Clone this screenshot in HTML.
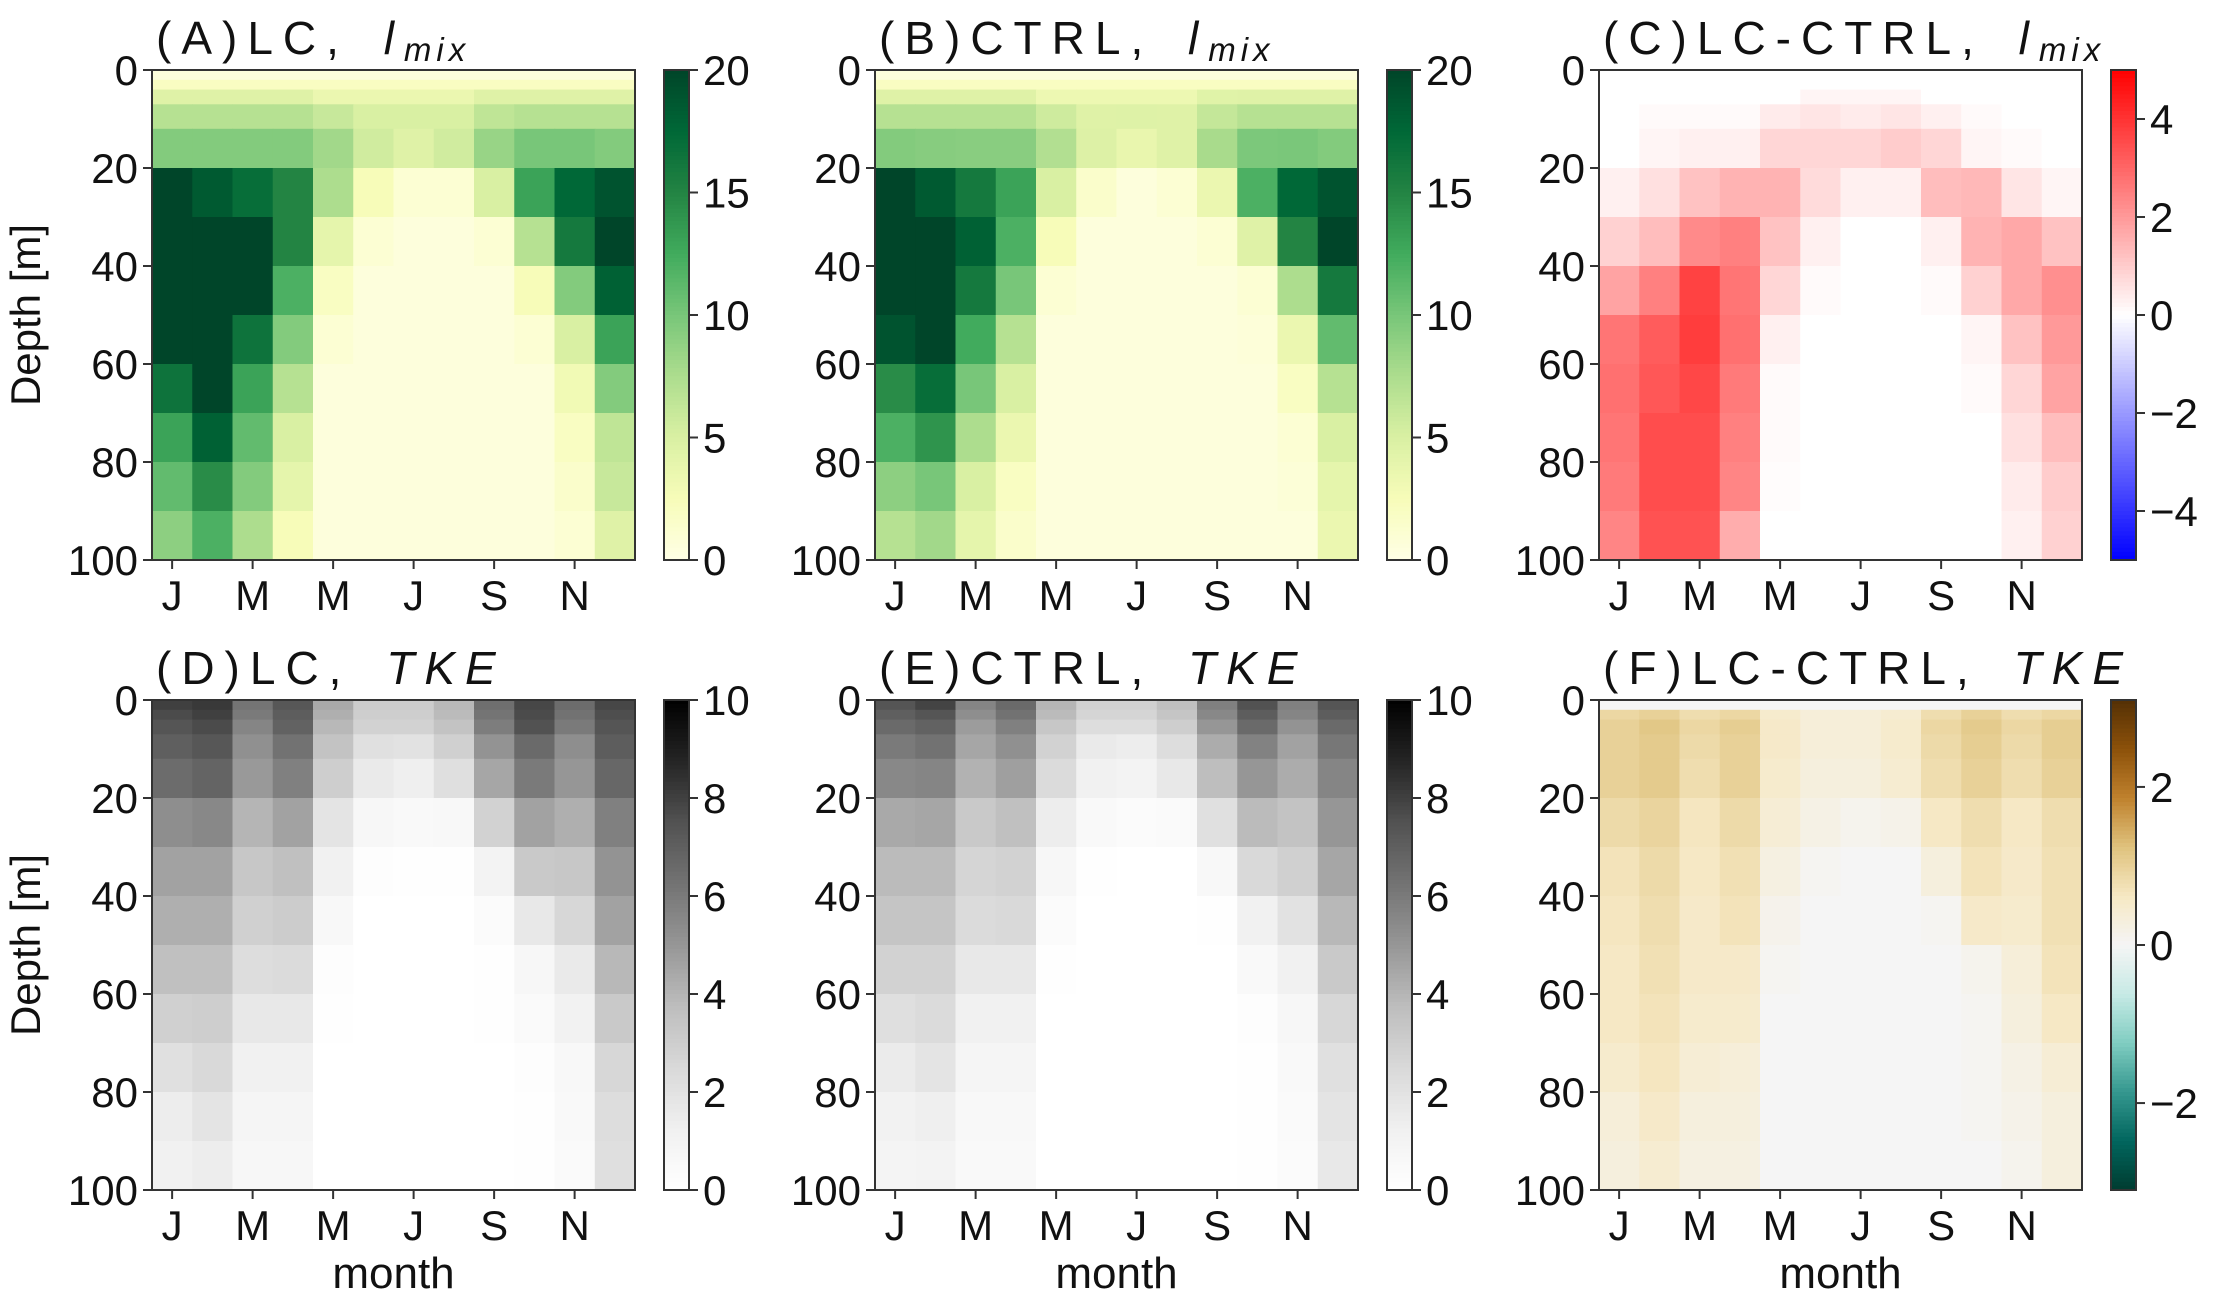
<!DOCTYPE html>
<html><head><meta charset="utf-8"><title>LC vs CTRL l_mix and TKE</title>
<style>
html,body{margin:0;padding:0;background:#fff;}
svg{display:block;font-family:"Liberation Sans","DejaVu Sans",sans-serif;}
</style></head>
<body>
<svg id="fig" width="2228" height="1300" viewBox="0 0 2228 1300" xmlns="http://www.w3.org/2000/svg"></svg>
<script>
const months = ["Jan","Feb","Mar","Apr","May","Jun","Jul","Aug","Sep","Oct","Nov","Dec"];
const monthTickLabels = ["J","M","M","J","S","N"];
const monthTickIdx = [0,2,4,6,8,10];
const depthEdges = [0,2,4,7,12,20,30,40,50,60,70,80,90,100];
const depthTicks = [0,20,40,60,80,100];

const lcLmix = [
 [0.5,0.5,0.5,0.5,0.5,0.5,0.5,0.5,0.5,0.5,0.5,0.5],
 [2,2,2,2,2,2,2,2,2,2,2,2],
 [4.5,4.5,4.5,4.5,3.5,3.5,3.5,3.5,4.5,4.5,4.5,4.5],
 [7,7,7,7,6,5,5,5,6.5,7,7,7],
 [9.5,9.5,9.5,9.5,8,5.5,4.5,5.5,8.5,10,10,9.5],
 [20,18.5,17,15,7.5,2.5,1,1,5,13,17.5,19],
 [20,20,20,15,4,1,0.5,0.5,1,7,16,20],
 [20,20,20,12,2,0.5,0.5,0.5,0.5,2.5,9.5,18],
 [20,20,16.5,9.5,1,0.5,0.5,0.5,0.5,1,5,13],
 [16.5,20,13,7,0.5,0.5,0.5,0.5,0.5,0.5,3,9.5],
 [13,18,11,5,0.5,0.5,0.5,0.5,0.5,0.5,2,6.5],
 [11,14.5,9.5,4,0.5,0.5,0.5,0.5,0.5,0.5,1.5,6],
 [9,12,7.5,2.5,0.5,0.5,0.5,0.5,0.5,0.5,1,4.5]
];
const ctrlLmix = [
 [0.5,0.5,0.5,0.5,0.5,0.5,0.5,0.5,0.5,0.5,0.5,0.5],
 [2,2,2,2,2,2,2,2,2,2,2,2],
 [4.5,4.5,4.5,4.5,3.3,3.3,3.3,3.3,4.4,4.5,4.5,4.5],
 [7,7,7,7,5.6,4.5,4.6,4.5,6.2,7,7,7],
 [9.5,9.3,9.2,9.2,7.2,4.7,3.7,4.5,7.7,9.8,9.9,9.5],
 [20,18.5,16,13,5,1.5,0.5,1,3.5,12,17.5,19],
 [20,20,18,12,2.5,0.5,0.5,0.5,1,4.5,15,20],
 [20,20,16,10,1,0.5,0.5,0.5,0.5,1,7.5,16],
 [19,20,12.5,7,0.5,0.5,0.5,0.5,0.5,0.7,3.5,11],
 [14.5,17,10,5,0.5,0.5,0.5,0.5,0.5,0.5,2,7],
 [12,14,7.5,3.5,0.5,0.5,0.5,0.5,0.5,0.5,1,5],
 [9,10,5,2,0.5,0.5,0.5,0.5,0.5,0.5,0.8,4],
 [7,8,4,1.5,0.5,0.5,0.5,0.5,0.5,0.5,0.5,3.5]
];
const diffLmix = [
 [0,0,0,0,0,0,0,0,0,0,0,0],
 [0,0,0,0,0,0,0,0,0,0,0,0],
 [0,0,0,0,0,0.2,0.2,0.2,0,0,0,0],
 [0,0.1,0.1,0.1,0.4,0.5,0.4,0.5,0.3,0.1,0,0],
 [0,0.2,0.3,0.3,0.8,0.8,0.8,1.0,0.8,0.2,0.1,0],
 [0.3,0.6,1.2,1.5,1.5,0.7,0.3,0.3,1.3,1.4,0.5,0.2],
 [0.9,1.3,2.3,2.5,1.2,0.3,0,0,0.3,1.5,1.7,1.2],
 [1.8,2.5,3.7,2.7,0.8,0.1,0,0,0.1,0.9,1.7,2.2],
 [2.7,3.2,3.8,2.8,0.3,0,0,0,0,0.2,1.2,2.0],
 [2.8,3.3,3.6,2.6,0.1,0,0,0,0,0.1,0.8,1.8],
 [2.7,3.5,3.5,2.5,0.1,0,0,0,0,0,0.6,1.3],
 [2.6,3.5,3.5,2.4,0.05,0,0,0,0,0,0.4,1.0],
 [2.4,3.4,3.4,1.6,0,0,0,0,0,0,0.3,0.9]
];
const lcTke = [
 [8.0,8.2,6.2,7.3,4.4,3.1,3.1,3.9,6.4,7.8,6.5,7.8],
 [7.7,8.0,6.0,7.1,4.2,3.0,3.0,3.8,6.2,7.7,6.3,7.6],
 [7.4,7.7,5.6,6.9,3.9,2.8,2.8,3.5,5.9,7.5,6.0,7.4],
 [7.0,7.3,5.2,6.3,3.5,2.1,2.0,2.9,5.1,6.6,5.3,7.1],
 [6.5,6.8,4.9,5.8,3.0,1.6,1.3,2.2,4.5,6.0,5.0,6.7],
 [5.3,5.5,4.0,4.6,1.9,0.7,0.5,0.6,2.8,4.6,4.2,5.8],
 [4.6,4.6,3.3,3.6,1.2,0.2,0.1,0.1,1.0,3.2,3.3,5.1],
 [4.2,4.2,2.9,3.1,0.6,0,0,0,0.3,1.7,2.6,4.6],
 [3.6,3.6,2.3,2.4,0.2,0,0,0,0.1,0.7,1.6,3.9],
 [2.9,3.0,1.7,1.7,0.1,0,0,0,0.05,0.4,1.1,3.2],
 [2.1,2.5,1.2,1.2,0,0,0,0,0,0.2,0.6,2.6],
 [1.4,1.9,0.8,0.8,0,0,0,0,0,0.1,0.5,2.3],
 [1.2,1.4,0.7,0.7,0,0,0,0,0,0.1,0.4,2.2]
];
const ctrlTke = [
 [7.4,7.9,5.6,6.6,4.0,2.9,2.9,3.6,5.8,7.5,5.8,7.4],
 [7.0,7.4,5.3,6.3,3.8,2.7,2.7,3.4,5.5,7.1,5.6,7.1],
 [6.6,6.9,4.8,5.8,3.3,2.3,2.3,3.0,5.0,6.6,5.1,6.6],
 [6.0,6.3,4.5,5.2,2.8,1.6,1.4,2.3,4.3,5.7,4.6,6.1],
 [5.5,5.6,4.1,4.7,2.4,1.2,1.0,1.7,3.7,5.0,4.3,5.6],
 [4.4,4.5,3.2,3.6,1.4,0.5,0.3,0.4,2.1,3.8,3.5,5.0],
 [3.8,3.8,2.7,2.8,0.7,0.1,0,0,0.6,2.5,2.9,4.5],
 [3.4,3.4,2.4,2.5,0.3,0,0,0,0.1,1.2,2.0,3.9],
 [2.8,2.8,1.7,1.7,0.1,0,0,0,0,0.5,1.2,3.2],
 [2.2,2.4,1.2,1.2,0,0,0,0,0,0.2,0.7,2.6],
 [1.5,1.9,0.8,0.8,0,0,0,0,0,0.1,0.5,2.1],
 [1.1,1.3,0.6,0.6,0,0,0,0,0,0.05,0.4,1.9],
 [0.9,1.0,0.5,0.5,0,0,0,0,0,0.05,0.3,1.7]
];
const diffTke = [
 [0,0,0,0,0,0,0,0,0,0,0,0],
 [0.9,1.0,0.8,0.9,0.5,0.35,0.35,0.45,0.8,1.0,0.8,0.9],
 [1.0,1.15,0.9,1.05,0.55,0.35,0.35,0.5,0.9,1.1,0.9,1.05],
 [1.0,1.1,0.85,1.0,0.55,0.35,0.35,0.5,0.85,1.05,0.85,1.05],
 [1.0,1.1,0.8,1.0,0.5,0.3,0.3,0.45,0.8,1.0,0.8,1.0],
 [0.85,0.95,0.65,0.85,0.4,0.2,0.1,0.15,0.6,0.8,0.6,0.8],
 [0.7,0.85,0.6,0.75,0.25,0.05,0,0,0.3,0.7,0.55,0.75],
 [0.65,0.8,0.55,0.7,0.12,0,0,0,0.05,0.55,0.5,0.75],
 [0.6,0.75,0.55,0.55,0.05,0,0,0,0,0.1,0.35,0.7],
 [0.6,0.7,0.5,0.5,0,0,0,0,0,0.05,0.3,0.6],
 [0.5,0.65,0.4,0.35,0,0,0,0,0,0.05,0.2,0.4],
 [0.35,0.55,0.3,0.3,0,0,0,0,0,0.05,0.15,0.3],
 [0.3,0.45,0.25,0.25,0,0,0,0,0,0,0.1,0.3]
];
const lmixCbarTicks = [0,5,10,15,20];
const diffLmixCbarTicks = [-4,-2,0,2,4];
const tkeCbarTicks = [0,2,4,6,8,10];
const diffTkeCbarTicks = [-2,0,2];

const YlGn = ["#ffffe5","#f7fcb9","#d9f0a3","#addd8e","#78c679","#41ab5d","#238443","#006837","#004529"];
const Greys = ["#ffffff","#f0f0f0","#d9d9d9","#bdbdbd","#969696","#737373","#525252","#252525","#000000"];
const BWR = ["#0000ff","#ffffff","#ff0000"];
const BrBG = ["#003c30","#01665e","#35978f","#80cdc1","#c7eae5","#f5f5f5","#f6e8c3","#dfc27d","#bf812d","#8c510a","#543005"];

function hex2rgb(h){return [parseInt(h.substr(1,2),16),parseInt(h.substr(3,2),16),parseInt(h.substr(5,2),16)];}
function cmap(stops,t){
  t=Math.max(0,Math.min(1,t));
  const p=t*(stops.length-1), i=Math.min(Math.floor(p),stops.length-2), f=p-i;
  const a=hex2rgb(stops[i]), b=hex2rgb(stops[i+1]);
  return "rgb("+a.map((v,k)=>Math.round(v+(b[k]-v)*f)).join(",")+")";
}

const NS="http://www.w3.org/2000/svg";
const svg=document.getElementById("fig");
function mk(tag,attrs,parent){const e=document.createElementNS(NS,tag);for(const k in attrs)e.setAttribute(k,attrs[k]);(parent||svg).appendChild(e);return e;}

const colX=[152,875,1599], plotW=483;
const rowY=[70,700], plotH=490;
const cbOff=512, cbW=25;
const FS=42;

const panels=[
 {id:"a",lab:"(A)LC, ",v:"lmix",data:lcLmix,stops:YlGn,vmin:0,vmax:20,ticks:lmixCbarTicks,c:0,r:0},
 {id:"b",lab:"(B)CTRL, ",v:"lmix",data:ctrlLmix,stops:YlGn,vmin:0,vmax:20,ticks:lmixCbarTicks,c:1,r:0},
 {id:"c",lab:"(C)LC-CTRL, ",v:"lmix",data:diffLmix,stops:BWR,vmin:-5,vmax:5,ticks:diffLmixCbarTicks,c:2,r:0},
 {id:"d",lab:"(D)LC, ",v:"tke",data:lcTke,stops:Greys,vmin:0,vmax:10,ticks:tkeCbarTicks,c:0,r:1},
 {id:"e",lab:"(E)CTRL, ",v:"tke",data:ctrlTke,stops:Greys,vmin:0,vmax:10,ticks:tkeCbarTicks,c:1,r:1},
 {id:"f",lab:"(F)LC-CTRL, ",v:"tke",data:diffTke,stops:BrBG,vmin:-3.1,vmax:3.1,ticks:diffTkeCbarTicks,c:2,r:1}
];

panels.forEach(p=>{
  const x0=colX[p.c], y0=rowY[p.r];
  const g=mk("g",{});
  
  
  const xs=i=>x0+i*plotW/months.length;
  const ys=d=>y0+d/100*plotH;
  const col=v=>cmap(p.stops,(v-p.vmin)/(p.vmax-p.vmin));
  p.data.forEach((row,ri)=>{
    row.forEach((v,mi)=>{
      const y1=ys(depthEdges[ri]), y2=ys(depthEdges[ri+1]);
      const r=mk("rect",{x:xs(mi),y:y1,width:xs(mi+1)-xs(mi)+0.6,height:y2-y1+0.6,fill:col(v)},g);
      
      
    });
  });
  const fr=mk("rect",{x:x0,y:y0,width:plotW,height:plotH,fill:"none",stroke:"#333",'stroke-width':2},g);
  
  
  depthTicks.forEach(d=>{
    mk("line",{x1:x0-9,x2:x0,y1:ys(d),y2:ys(d),stroke:"#333",'stroke-width':2},g);
    const t=mk("text",{x:x0-14,y:ys(d)+15,'text-anchor':'end','font-size':FS,fill:"#111"},g);
    t.textContent=d;
    
    
  });
  monthTickIdx.forEach((mi,k)=>{
    const cx=(xs(mi)+xs(mi+1))/2;
    mk("line",{x1:cx,x2:cx,y1:y0+plotH,y2:y0+plotH+9,stroke:"#333",'stroke-width':2},g);
    const t=mk("text",{x:cx,y:y0+plotH+50,'text-anchor':'middle','font-size':FS,fill:"#111"},g);
    t.textContent=monthTickLabels[k];
    
    
  });
  const tt=mk("text",{x:x0+4,y:y0-16,'font-size':46,'letter-spacing':10,fill:"#111"},g);
  
  
  const s1=mk("tspan",{},tt); s1.textContent=p.lab;
  if(p.v==="lmix"){
    const s2=mk("tspan",{'font-style':'italic','letter-spacing':0,dx:12},tt); s2.textContent="l";
    const s3=mk("tspan",{'font-style':'italic','font-size':33,dy:7,dx:10,'letter-spacing':5},tt); s3.textContent="mix";
  } else {
    const s2=mk("tspan",{'font-style':'italic',dx:12},tt); s2.textContent="TKE";
  }
  const cx0=x0+cbOff;
  const cb=mk("g",{},g);
  
  
  const N=120;
  for(let i=0;i<N;i++){
    const v=p.vmax-(i+0.5)/N*(p.vmax-p.vmin);
    mk("rect",{x:cx0,y:y0+i*plotH/N,width:cbW,height:plotH/N+0.6,fill:col(v)},cb);
  }
  mk("rect",{x:cx0,y:y0,width:cbW,height:plotH,fill:"none",stroke:"#333",'stroke-width':2},cb);
  p.ticks.forEach(tv=>{
    const ty=y0+(p.vmax-tv)/(p.vmax-p.vmin)*plotH;
    mk("line",{x1:cx0+cbW,x2:cx0+cbW+9,y1:ty,y2:ty,stroke:"#333",'stroke-width':2},cb);
    const t=mk("text",{x:cx0+cbW+14,y:ty+15,'font-size':FS,fill:"#111"},cb);
    t.textContent=(tv<0?"\u2212"+(-tv):String(tv));
    
    
  });
});

[0,1].forEach(r=>{
  const cy=rowY[r]+plotH/2;
  const t=mk("text",{x:0,y:0,'font-size':42,'text-anchor':'middle',fill:"#111",transform:"translate(40,"+cy+") rotate(-90)"});
  t.textContent="Depth [m]";
  
  
});
colX.forEach(x=>{
  const t=mk("text",{x:x+plotW/2,y:1288,'font-size':44,'text-anchor':'middle',fill:"#111"});
  t.textContent="month";
  
  
});
</script>
</body></html>
